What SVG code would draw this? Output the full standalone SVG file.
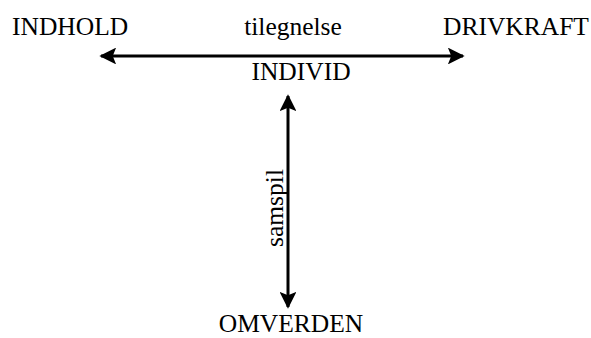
<svg xmlns="http://www.w3.org/2000/svg" width="591" height="338" viewBox="0 0 591 338">
<style>
text{font-family:"Liberation Serif","Times New Roman",serif;font-size:25.5px;fill:#000}
.c{stroke:#000;stroke-width:3;fill:none}
</style>
<defs>
<marker id="ah" viewBox="0 0 10 10" refX="9" refY="5" markerWidth="5.6" markerHeight="5.6" orient="auto-start-reverse" markerUnits="strokeWidth">
<path d="M0,0 L10,5 L0,10 L2,5 Z" fill="#000"/>
</marker>
</defs>
<rect width="591" height="338" fill="#fff"/>
<g id="connectors">
<line class="c" x1="101" y1="56" x2="463" y2="56" marker-start="url(#ah)" marker-end="url(#ah)"/>
<line class="c" x1="288" y1="96" x2="288" y2="307" marker-start="url(#ah)" marker-end="url(#ah)"/>
</g>
<g id="indhold"><text x="12" y="35">INDHOLD</text></g>
<g id="tilegnelse"><text x="293" y="35" text-anchor="middle">tilegnelse</text></g>
<g id="drivkraft"><text x="443" y="35">DRIVKRAFT</text></g>
<g id="individ"><text x="301" y="80" text-anchor="middle">INDIVID</text></g>
<g id="samspil"><text transform="translate(283,208) rotate(-90)" text-anchor="middle">samspil</text></g>
<g id="omverden"><text x="291" y="332" text-anchor="middle">OMVERDEN</text></g>
</svg>
